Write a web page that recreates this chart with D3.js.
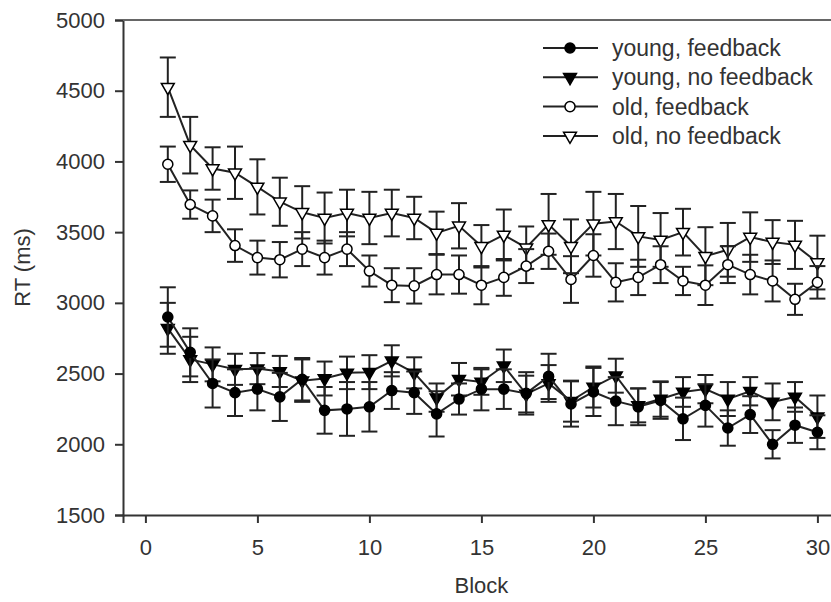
<!DOCTYPE html>
<html>
<head>
<meta charset="utf-8">
<script src="https://cdn.jsdelivr.net/npm/d3@7"></script>
<style>
  body { margin: 0; background: #fff; }
  svg { display: block; font-family: "Liberation Sans", Arial, sans-serif; }
</style>
</head>
<body>
<svg id="svg"></svg>
<script>
// RT by block, four groups, mean and SE

const blocks = d3.range(1, 31);

const youngFb = [2900, 2650, 2430, 2365, 2390, 2335, 2460, 2240, 2250, 2265,
  2380, 2365, 2215, 2320, 2390, 2390, 2360, 2480, 2285, 2370,
  2305, 2265, 2310, 2180, 2275, 2115, 2210, 2000, 2135, 2085];
const youngFbSe = [210, 170, 170, 165, 150, 170, 150, 165, 190, 175,
  130, 150, 160, 110, 150, 140, 150, 160, 160, 170,
  170, 130, 130, 150, 150, 125, 130, 100, 125, 120];

const youngNoFb = [2820, 2600, 2565, 2530, 2535, 2515, 2450, 2465, 2505, 2510,
  2590, 2505, 2330, 2460, 2440, 2555, 2355, 2430, 2305, 2405,
  2485, 2275, 2320, 2370, 2390, 2320, 2375, 2300, 2335, 2195];
const youngNoFbSe = [180, 160, 120, 110, 110, 110, 150, 120, 115, 120,
  110, 110, 100, 115, 90, 115, 130, 130, 145, 145,
  120, 120, 125, 105, 100, 120, 100, 130, 105, 150];

const oldFb = [3980, 3695, 3615, 3405, 3320, 3305, 3380, 3320, 3380, 3225,
  3125, 3120, 3200, 3200, 3125, 3180, 3260, 3365, 3165, 3335,
  3145, 3180, 3270, 3155, 3125, 3270, 3200, 3155, 3025, 3145];
const oldFbSe = [125, 100, 115, 115, 120, 125, 120, 120, 120, 110,
  120, 125, 140, 135, 135, 130, 120, 125, 165, 150,
  135, 125, 130, 100, 140, 130, 140, 145, 110, 115];

const oldNoFb = [4525, 4115, 3950, 3920, 3820, 3715, 3640, 3600, 3635, 3600,
  3635, 3600, 3495, 3545, 3400, 3480, 3390, 3555, 3400, 3560,
  3575, 3470, 3445, 3500, 3330, 3375, 3465, 3430, 3410, 3285];
const oldNoFbSe = [210, 200, 150, 185, 195, 170, 185, 180, 165, 185,
  165, 150, 150, 160, 150, 180, 150, 215, 190, 225,
  195, 215, 190, 165, 205, 190, 175, 155, 170, 190];

const xTicks = [0, 5, 10, 15, 20, 25, 30];
const yTicks = [1500, 2000, 2500, 3000, 3500, 4000, 4500, 5000];

const series = [
  { name: "old, no feedback", mean: oldNoFb, se: oldNoFbSe, shape: "triangle", filled: false },
  { name: "old, feedback", mean: oldFb, se: oldFbSe, shape: "circle", filled: false },
  { name: "young, no feedback", mean: youngNoFb, se: youngNoFbSe, shape: "triangle", filled: true },
  { name: "young, feedback", mean: youngFb, se: youngFbSe, shape: "circle", filled: true },
];
const legendOrder = ["young, feedback", "young, no feedback", "old, feedback", "old, no feedback"];

const width = 831;
const height = 602;
const ink = "#222";
const fontSize = "22px";

const svg = d3.select("#svg").attr("width", width).attr("height", height);

const x = d3.scaleLinear().domain([-1, 31]).range([123, 839.8]);
const y = d3.scaleLinear().domain([1500, 5000]).range([515, 20]);

function symbolPath(shape) {
  if (shape === "circle") return d3.symbol().type(d3.symbolCircle).size(80)();
  return d3.symbol().type(d3.symbolTriangle).size(72)();
}

// axes
const xAxis = d3.axisBottom(x).tickValues(xTicks).tickSize(8).tickPadding(16);
const yAxis = d3.axisLeft(y).tickValues(yTicks).tickSize(8).tickPadding(10)
  .tickFormat(d3.format("d"));

const gx = svg.append("g")
  .attr("transform", `translate(0,${y(1500)})`)
  .call(xAxis);
const gy = svg.append("g")
  .attr("transform", `translate(${x(-1)},0)`)
  .call(yAxis);

[gx, gy].forEach((g) => {
  g.select(".domain").attr("stroke", "#333").attr("stroke-width", 2);
  g.selectAll(".tick line").attr("stroke", "#333").attr("stroke-width", 2);
  g.selectAll(".tick text")
    .attr("fill", "#333")
    .style("font-size", fontSize)
    .style("font-family", "'Liberation Sans', Arial, sans-serif");
});

// top frame line
svg.append("line")
  .attr("x1", x(-1)).attr("x2", width)
  .attr("y1", y(5000)).attr("y2", y(5000))
  .attr("stroke", "#666")
  .attr("stroke-width", 2);

svg.append("text")
  .attr("transform", `translate(30,${(y(1500) + y(5000)) / 2}) rotate(-90)`)
  .attr("text-anchor", "middle")
  .attr("fill", "#333")
  .style("font-size", fontSize)
  .text("RT (ms)");

svg.append("text")
  .attr("x", x(15))
  .attr("y", 593)
  .attr("text-anchor", "middle")
  .attr("fill", "#333")
  .style("font-size", fontSize)
  .text("Block");

// data
const line = d3.line().x((d, i) => x(blocks[i])).y((d) => y(d));

series.forEach((s) => {
  const g = svg.append("g");

  g.append("path")
    .datum(s.mean)
    .attr("d", line)
    .attr("fill", "none")
    .attr("stroke", ink)
    .attr("stroke-width", 2);

  const err = g.selectAll("g.err")
    .data(s.mean.map((m, i) => ({ b: blocks[i], m: m, se: s.se[i] })))
    .join("g")
    .attr("class", "err")
    .attr("stroke", ink)
    .attr("stroke-width", 2);

  err.append("line")
    .attr("x1", (d) => x(d.b)).attr("x2", (d) => x(d.b))
    .attr("y1", (d) => y(d.m + d.se)).attr("y2", (d) => y(d.m - d.se));
  err.append("line")
    .attr("x1", (d) => x(d.b) - 8).attr("x2", (d) => x(d.b) + 8)
    .attr("y1", (d) => y(d.m + d.se)).attr("y2", (d) => y(d.m + d.se));
  err.append("line")
    .attr("x1", (d) => x(d.b) - 8).attr("x2", (d) => x(d.b) + 8)
    .attr("y1", (d) => y(d.m - d.se)).attr("y2", (d) => y(d.m - d.se));

  g.selectAll("path.mark")
    .data(s.mean)
    .join("path")
    .attr("class", "mark")
    .attr("d", symbolPath(s.shape))
    .attr("transform", (d, i) =>
      `translate(${x(blocks[i])},${y(d)})` + (s.shape === "triangle" ? " rotate(180)" : ""))
    .attr("fill", s.filled ? "#000" : "#fff")
    .attr("stroke", "#000")
    .attr("stroke-width", 1.5);
});

// legend
const legend = svg.append("g").attr("transform", "translate(543,48)");

legendOrder.forEach((name, i) => {
  const s = series.find((d) => d.name === name);
  const row = legend.append("g").attr("transform", `translate(0,${i * 29.3})`);
  row.append("line")
    .attr("x1", 0).attr("x2", 55)
    .attr("stroke", ink)
    .attr("stroke-width", 2);
  row.append("path")
    .attr("d", symbolPath(s.shape))
    .attr("transform", `translate(27,0)` + (s.shape === "triangle" ? " rotate(180)" : ""))
    .attr("fill", s.filled ? "#000" : "#fff")
    .attr("stroke", "#000")
    .attr("stroke-width", 1.5);
  row.append("text")
    .attr("x", 69)
    .attr("y", 8)
    .attr("fill", "#333")
    .style("font-size", "23px")
    .text(name);
});
</script>
</body>
</html>
